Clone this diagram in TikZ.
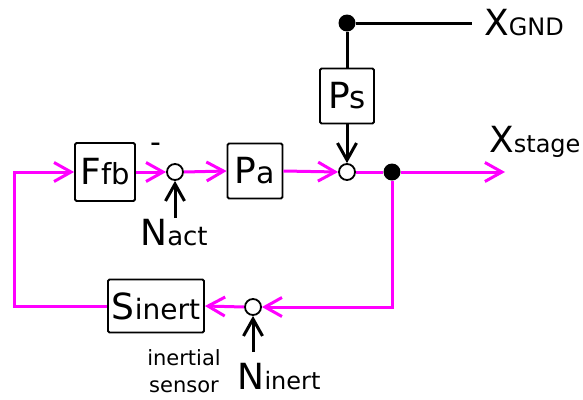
\documentclass[tikz,border=0pt]{standalone}
\usepackage{fontspec}
\setmainfont{DejaVu Sans}
\usetikzlibrary{arrows.meta}
\definecolor{mag}{RGB}{255,0,255}
\newcommand{\lbl}[3][25]{{\fontsize{36}{36}\selectfont #2}{\fontsize{#1}{#1}\selectfont #3}}
\begin{document}
\begin{tikzpicture}[x=1pt,y=-1pt,
  blk/.style={draw, line width=1.8pt, rounded corners=1.5pt, inner sep=0pt},
  sig/.style={draw=mag, line width=3pt},
  bl/.style={draw=black, line width=3pt},
  arr/.style={-{Straight Barb[length=17pt,width=19pt]}},
  sumj/.style={circle, draw, fill=white, line width=1.8pt, minimum size=16pt, inner sep=0pt},
  dot/.style={circle, fill=black, minimum size=17pt, inner sep=0pt},
  txt/.style={inner sep=0pt}]
\useasboundingbox (0,0) rectangle (583,399);
% blocks
\node[blk, minimum width=60, minimum height=58] (F) at (105,172) {\lbl[29]{F}{fb}};
\node[blk, minimum width=55, minimum height=55] (P) at (255,171) {\lbl[30]{P}{a}};
\node[blk, minimum width=54, minimum height=55] (Ps) at (347,96) {\lbl[31]{P}{s}};
\node[blk, minimum width=96, minimum height=53] (S) at (156,306) {\lbl[28]{S}{inert}};
% junctions
\node[sumj] (s1) at (175,172) {};
\node[sumj] (s2) at (347,172) {};
\node[sumj] (s3) at (253,307) {};
\node[dot] (D) at (392,172) {};
\node[dot] (G) at (347,23) {};
% coordinates
\coordinate (out) at (505,172);
\coordinate (gend) at (472,23);
\coordinate (LL) at (14,306);
\coordinate (nact) at (175,218);
\coordinate (nin) at (253,352);
% labels
\node[txt] (Nact) at (174,233) {\lbl[26]{N}{act}};
\node[txt] (Nin) at (279,377) {\lbl[24]{N}{inert}};
\node[txt, font=\fontsize{21}{27}\selectfont, align=center] (ins) at (184,371) {inertial\\sensor};
\node[txt] (minus) at (156,148) {\fontsize{30}{30}\selectfont -};
\node[txt, anchor=west] (XG) at (484,23) {\lbl[24]{X}{GND}};
\node[txt, anchor=west] (XS) at (489,142) {\lbl[24]{X}{stage}};
% magenta signal paths
\draw[sig, arr] (S.west) -- (LL) |- (F.west);
\draw[sig, arr] (F.east) -- (s1.west);
\draw[sig, arr] (s1.east) -- (P.west);
\draw[sig, arr] (P.east) -- (s2.west);
\draw[sig] (s2.east) -- (D.west);
\draw[sig, arr] (D.east) -- (out);
\draw[sig, arr] (D.south) |- (s3.east);
\draw[sig, arr] (s3.west) -- (S.east);
% black paths
\draw[bl] (G) -- (gend);
\draw[bl] (G) -- (Ps.north);
\draw[bl, arr] (Ps.south) -- (s2.north);
\draw[bl, arr] (nact) -- (s1.south);
\draw[bl, arr] (nin) -- (s3.south);
\end{tikzpicture}
\end{document}
